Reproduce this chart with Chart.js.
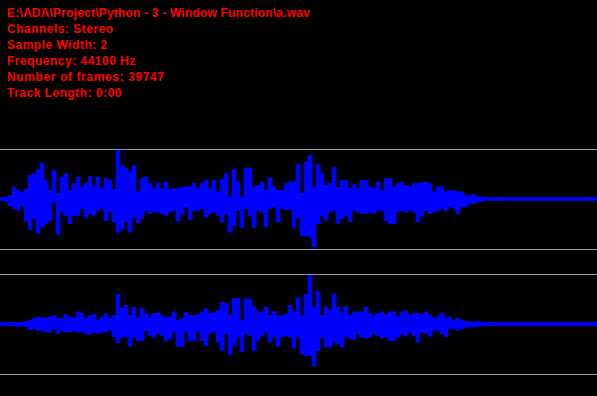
<!DOCTYPE html>
<html>
<head>
<meta charset="utf-8">
<script src="https://cdn.jsdelivr.net/npm/chart.js@4.4.1/dist/chart.umd.min.js"></script>
<style>
  html, body { margin: 0; padding: 0; background: #000; width: 597px; height: 396px; overflow: hidden; position: relative; }
  #info { position: absolute; left: 7px; top: 5px; color: #ff0000; font-family: "Liberation Sans", Arial, sans-serif; font-weight: bold; font-size: 12px; line-height: 16px; white-space: pre; }
  #info div { letter-spacing: 0.5px; }
  #info div:first-child { letter-spacing: 0.2px; }
  #info div:nth-child(5) { letter-spacing: 0.62px; }
  canvas { position: absolute; left: 0; }
  #ch1 { top: 149px; }
  #ch2 { top: 274px; }
</style>
</head>
<body>
<div id="info"></div>
<canvas id="ch1" width="600" height="101"></canvas>
<canvas id="ch2" width="600" height="101"></canvas>
<script>
// File information lines
const infoLines = [
  "E:\\ADA\\Project\\Python - 3 - Window Function\\a.wav",
  "Channels: Stereo",
  "Sample Width: 2",
  "Frequency: 44100 Hz",
  "Number of frames: 39747",
  "Track Length: 0:00"
];

// Amplitude envelope per time bucket (% of full scale), 150 buckets
const ch1Max = [3,4,7,24,17,14,20,47,51,59, 72,37,17,57,11,44,51,17,31,44, 24,31,45,24,44,21,41,37,19,97, 67,61,54,67,14,41,44,31,21,32, 21,34,19,21,21,24,24,24,32,21,
  31,37,21,37,14,39,51,4,59,34, 4,61,61,24,27,34,17,43,24,17, 17,31,34,34,69,11,74,87,24,69, 51,27,31,63,23,37,37,21,29,21, 37,37,24,21,34,17,41,41,24,31,
  34,27,24,31,31,32,34,31,14,24, 25,14,17,17,14,14,7,7,9,5, 4,3,3,3,3,3,3,3,3,3, 3,3,3,3,3,3,3,3,3,3, 3,3,3,3,3,3,3,3,3,3];
const ch1Min = [-3,-5,-14,-19,-23,-13,-44,-61,-39,-68, -56,-49,-43,-6,-71,-26,-33,-49,-33,-33, -19,-36,-29,-33,-23,-19,-43,-26,-46,-66, -61,-46,-66,-36,-48,-39,-23,-29,-26,-26, -29,-33,-26,-23,-44,-29,-16,-41,-23,-23,
  -19,-36,-29,-26,-33,-46,-29,-66,-53,-23, -57,-19,-33,-57,-23,-26,-55,-19,-16,-46, -19,-21,-21,-57,-36,-73,-73,-76,-96,-49, -33,-43,-26,-23,-49,-39,-33,-45,-23,-26, -29,-29,-26,-29,-23,-23,-43,-49,-49,-26,
  -23,-26,-23,-26,-46,-33,-23,-29,-26,-23, -19,-23,-16,-19,-29,-16,-16,-9,-9,-6, -5,-3,-3,-3,-3,-3,-3,-3,-3,-3, -3,-3,-3,-3,-3,-3,-3,-3,-3,-3, -3,-3,-3,-3,-3,-3,-3,-3,-3,-3];
const ch2Max = [3,3,3,3,3,4,5,7,11,14, 12,12,14,17,11,11,19,14,12,24, 21,11,17,19,7,14,21,11,17,59, 32,37,17,34,12,31,21,14,21,22, 16,14,14,24,7,11,23,17,17,19,
  24,31,21,24,27,43,41,17,51,51, 7,51,49,34,24,24,34,17,25,17, 17,19,37,24,53,17,59,97,34,65, 17,34,27,59,34,24,36,17,24,24, 24,34,21,17,21,24,19,24,24,14,
  24,25,17,21,21,19,24,17,11,14, 22,11,14,7,11,7,5,4,4,5, 3,4,3,3,3,3,3,3,3,3, 3,3,3,3,3,3,3,3,3,3, 3,3,3,3,3,3,3,3,3,3];
const ch2Min = [-3,-3,-3,-3,-5,-4,-5,-11,-9,-13, -13,-16,-16,-9,-19,-13,-16,-16,-13,-16, -16,-19,-21,-16,-19,-16,-16,-13,-26,-37, -26,-26,-45,-26,-33,-33,-13,-23,-26,-19, -23,-33,-29,-16,-45,-45,-16,-33,-33,-15,
  -33,-43,-19,-16,-36,-53,-19,-61,-43,-26, -55,-19,-23,-53,-33,-23,-16,-36,-26,-45, -26,-23,-26,-48,-26,-59,-64,-63,-84,-53, -26,-46,-46,-36,-39,-46,-26,-29,-31,-19, -26,-28,-26,-19,-23,-28,-26,-33,-33,-26,
  -19,-24,-16,-23,-36,-16,-19,-24,-13,-13, -19,-25,-9,-9,-13,-9,-6,-6,-5,-5, -4,-4,-3,-3,-3,-3,-3,-3,-3,-3, -3,-3,-3,-3,-3,-3,-3,-3,-3,-3, -3,-3,-3,-3,-3,-3,-3,-3,-3,-3];
const scaleLimits = [-100, 100];

const info = document.getElementById('info');
infoLines.forEach(t => { const d = document.createElement('div'); d.textContent = t; info.appendChild(d); });

function makeChannel(id, maxArr, minArr) {
  const labels = maxArr.map((_, i) => i);
  const data = maxArr.map((v, i) => [minArr[i], v]);
  new Chart(document.getElementById(id), {
    type: 'bar',
    data: {
      labels: labels,
      datasets: [{
        data: data,
        backgroundColor: '#0000ff',
        borderWidth: 0,
        barPercentage: 1,
        categoryPercentage: 1
      }]
    },
    options: {
      responsive: false,
      animation: false,
      devicePixelRatio: 1,
      layout: { padding: { top: 0, bottom: 1, left: 0, right: 0 } },
      plugins: { legend: { display: false }, tooltip: { enabled: false } },
      scales: {
        x: { display: false },
        y: {
          min: scaleLimits[0], max: scaleLimits[1],
          afterBuildTicks: (s) => { s.ticks = scaleLimits.map(v => ({ value: v })); },
          ticks: { display: false },
          border: { display: false },
          grid: { color: '#999999', lineWidth: 1, drawTicks: false }
        }
      }
    }
  });
}
makeChannel('ch1', ch1Max, ch1Min);
makeChannel('ch2', ch2Max, ch2Min);
</script>
</body>
</html>
